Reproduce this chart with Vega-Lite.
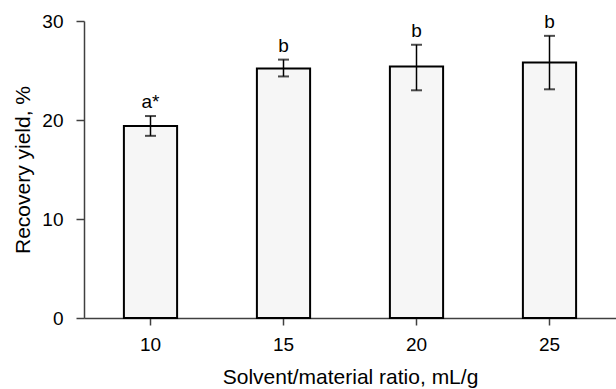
{
  "$schema": "https://vega.github.io/schema/vega-lite/v6.json",
  "width": 532,
  "height": 297,
  "autosize": {"type": "none"},
  "padding": {"left": 84, "top": 21, "right": 0, "bottom": 71},
  "background": "white",
  "config": {
    "font": "Liberation Sans",
    "view": {"stroke": null},
    "axis": {"labelFont": "Liberation Sans", "titleFont": "Liberation Sans", "labelFontSize": 19, "titleFontSize": 21, "titleFontWeight": "normal", "labelColor": "#000", "titleColor": "#000", "domainColor": "#404040", "tickColor": "#404040", "domainWidth": 1.5, "tickWidth": 1.5, "grid": false}
  },
  "data": {"values": [
    {"ratio": "10", "yield": 19.4, "lo": 18.4, "hi": 20.4, "label": "a*"},
    {"ratio": "15", "yield": 25.2, "lo": 24.4, "hi": 26.1, "label": "b"},
    {"ratio": "20", "yield": 25.4, "lo": 23.0, "hi": 27.6, "label": "b"},
    {"ratio": "25", "yield": 25.8, "lo": 23.1, "hi": 28.5, "label": "b"}
  ]},
  "encoding": {
    "x": {"field": "ratio", "type": "ordinal", "sort": null,
      "scale": {"paddingInner": 0.6, "paddingOuter": 0.3},
      "axis": {"title": "Solvent/material ratio, mL/g", "labelAngle": 0, "tickSize": 7, "labelPadding": 10, "titlePadding": 12}}
  },
  "layer": [
    {
      "mark": {"type": "bar", "fill": "#f6f6f6", "stroke": "#000", "strokeWidth": 2},
      "encoding": {
        "y": {"field": "yield", "type": "quantitative",
          "scale": {"domain": [0, 30], "nice": false},
          "axis": {"title": "Recovery yield, %", "values": [0, 10, 20, 30], "tickSize": 8, "labelPadding": 13, "titlePadding": 8}}
      }
    },
    {
      "mark": {"type": "rule", "color": "#000", "strokeWidth": 1.5},
      "encoding": {"y": {"field": "lo", "type": "quantitative"}, "y2": {"field": "hi"}}
    },
    {
      "mark": {"type": "tick", "color": "#000", "thickness": 2, "size": 11},
      "encoding": {"y": {"field": "lo", "type": "quantitative"}}
    },
    {
      "mark": {"type": "tick", "color": "#000", "thickness": 2, "size": 11},
      "encoding": {"y": {"field": "hi", "type": "quantitative"}}
    },
    {
      "mark": {"type": "text", "fontSize": 19, "baseline": "bottom", "dy": -4, "color": "#000"},
      "encoding": {"y": {"field": "hi", "type": "quantitative"}, "text": {"field": "label"}}
    }
  ]
}
